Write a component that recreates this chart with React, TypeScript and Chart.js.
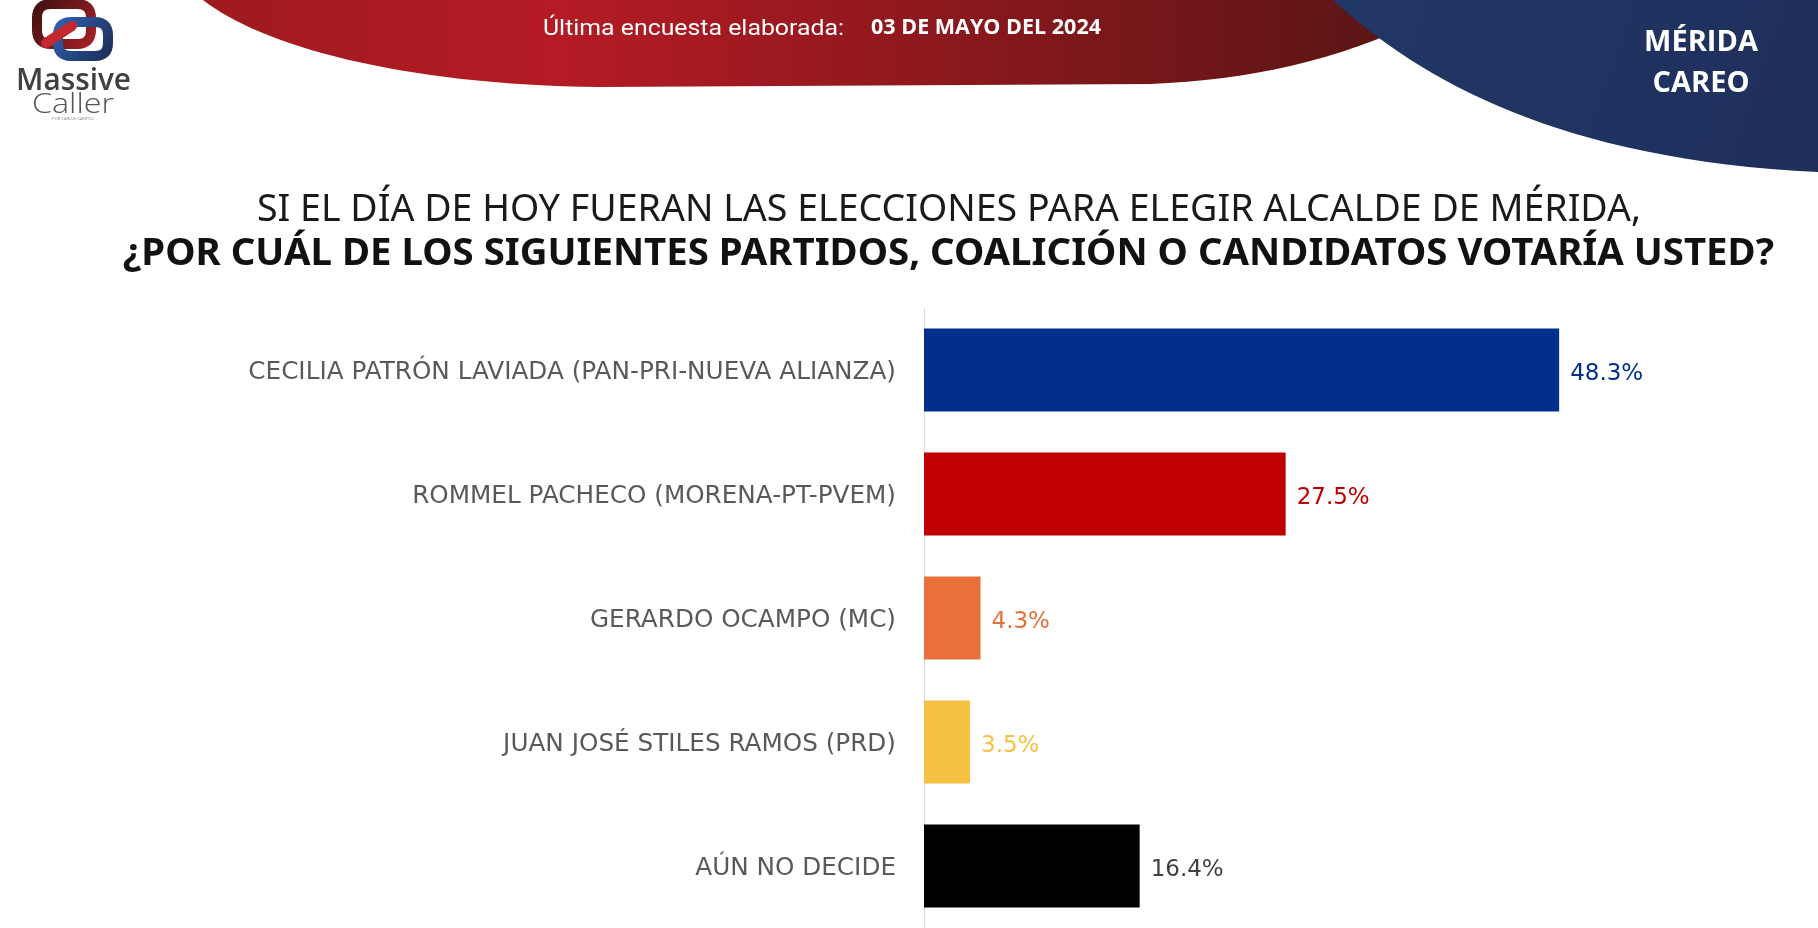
import React, { useEffect, useRef } from "react";
import { Chart, registerables } from "chart.js";
Chart.register(...registerables);

const categories = [
  "CECILIA PATRÓN LAVIADA (PAN-PRI-NUEVA ALIANZA)",
  "ROMMEL PACHECO (MORENA-PT-PVEM)",
  "GERARDO OCAMPO (MC)",
  "JUAN JOSÉ STILES RAMOS (PRD)",
  "AÚN NO DECIDE",
];
const values = [48.3, 27.5, 4.3, 3.5, 16.4];
const barColors = ["#022F8E", "#C00000", "#E8703A", "#F6C143", "#000000"];
const valueLabelColors = ["#022F8E", "#C00000", "#E8703A", "#F6C143", "#404040"];
const titleLine1 = "SI EL DÍA DE HOY FUERAN LAS ELECCIONES PARA ELEGIR ALCALDE DE MÉRIDA,";
const titleLine2 = "¿POR CUÁL DE LOS SIGUIENTES PARTIDOS, COALICIÓN O CANDIDATOS VOTARÍA USTED?";
const surveyLabel = "Última encuesta elaborada:";
const surveyDate = "03 DE MAYO DEL 2024";
const regionLines = ["MÉRIDA", "CAREO"];
const brandLines = ["Massive", "Caller", "POR CARLOS CAMPOS"];

function fitText(ctx: CanvasRenderingContext2D, text: string, left: number, baseline: number, width: number, font: string, color: string) {
  ctx.save();
  ctx.font = font;
  ctx.fillStyle = color;
  ctx.textAlign = "left";
  ctx.textBaseline = "alphabetic";
  const w = ctx.measureText(text).width;
  ctx.translate(left, baseline);
  ctx.scale(width / w, 1);
  ctx.fillText(text, 0, 0);
  ctx.restore();
}

function roundRectPath(ctx: CanvasRenderingContext2D, x: number, y: number, w: number, h: number, r: number) {
  ctx.beginPath();
  ctx.moveTo(x + r, y);
  ctx.lineTo(x + w - r, y);
  ctx.quadraticCurveTo(x + w, y, x + w, y + r);
  ctx.lineTo(x + w, y + h - r);
  ctx.quadraticCurveTo(x + w, y + h, x + w - r, y + h);
  ctx.lineTo(x + r, y + h);
  ctx.quadraticCurveTo(x, y + h, x, y + h - r);
  ctx.lineTo(x, y + r);
  ctx.quadraticCurveTo(x, y, x + r, y);
  ctx.closePath();
}

const decorPlugin = {
  id: "decor",
  beforeDraw(chart: any) {
    const ctx: CanvasRenderingContext2D = chart.ctx;
    const W = chart.width;
    ctx.save();
    ctx.fillStyle = "#ffffff";
    ctx.fillRect(0, 0, W, chart.height);

    // red header wave
    const rg = ctx.createLinearGradient(200, 0, 1400, 0);
    rg.addColorStop(0, "#9E1A1F");
    rg.addColorStop(0.3, "#B51B24");
    rg.addColorStop(1, "#5A1515");
    ctx.fillStyle = rg;
    ctx.beginPath();
    ctx.moveTo(203, 0);
    ctx.bezierCurveTo(260, 45, 400, 85, 600, 87);
    ctx.lineTo(1150, 84);
    ctx.bezierCurveTo(1250, 80, 1340, 60, 1420, 20);
    ctx.lineTo(1420, 0);
    ctx.closePath();
    ctx.fill();

    // blue corner
    const bg = ctx.createLinearGradient(1333, 0, 1818, 170);
    bg.addColorStop(0, "#213766");
    bg.addColorStop(1, "#1F2F5C");
    ctx.fillStyle = bg;
    ctx.beginPath();
    ctx.moveTo(1333, 0);
    ctx.bezierCurveTo(1420, 80, 1560, 160, 1818, 172);
    ctx.lineTo(1818, 0);
    ctx.closePath();
    ctx.fill();

    // header texts
    fitText(ctx, surveyLabel, 543, 35, 301, "22px Roboto", "#ffffff");
    fitText(ctx, surveyDate, 871, 34, 230, "bold 21px 'Open Sans'", "#ffffff");
    ctx.fillStyle = "#ffffff";
    ctx.font = "bold 29px 'Open Sans'";
    ctx.textAlign = "center";
    ctx.fillText(regionLines[0], 1701, 51);
    ctx.fillText(regionLines[1], 1701, 92);

    // logo icon
    ctx.lineWidth = 10;
    ctx.lineCap = "round";
    const lg1 = ctx.createLinearGradient(32, 0, 100, 50);
    lg1.addColorStop(0, "#3A1010");
    lg1.addColorStop(1, "#B02228");
    ctx.strokeStyle = lg1;
    roundRectPath(ctx, 37, 4, 54, 40, 14);
    ctx.stroke();
    const lg2 = ctx.createLinearGradient(55, 20, 112, 62);
    lg2.addColorStop(0, "#2F62B3");
    lg2.addColorStop(1, "#1B2A50");
    ctx.strokeStyle = lg2;
    roundRectPath(ctx, 58, 22, 50, 34, 13);
    ctx.stroke();
    ctx.strokeStyle = "#C4272E";
    ctx.beginPath();
    ctx.moveTo(46, 43);
    ctx.lineTo(72, 26);
    ctx.stroke();

    fitText(ctx, brandLines[0], 16, 90, 115, "600 31px 'Open Sans'", "#404040");
    fitText(ctx, brandLines[1], 32, 113, 82, "300 27px 'Open Sans'", "#555555");
    ctx.fillStyle = "#888888";
    ctx.font = "4px 'Open Sans'";
    ctx.textAlign = "center";
    ctx.fillText(brandLines[2], 73, 120);

    // title
    fitText(ctx, titleLine1, 257, 221, 1384, "38px 'Noto Sans'", "#1a1a1a");
    fitText(ctx, titleLine2, 123, 265, 1651, "bold 38px 'Noto Sans'", "#111111");
    ctx.restore();
  },
};

const valueLabelPlugin = {
  id: "valueLabels",
  afterDatasetsDraw(chart: any) {
    const ctx: CanvasRenderingContext2D = chart.ctx;
    const meta = chart.getDatasetMeta(0);
    ctx.save();
    ctx.font = "23px 'DejaVu Sans'";
    ctx.textAlign = "left";
    ctx.textBaseline = "middle";
    meta.data.forEach((bar: any, i: number) => {
      ctx.fillStyle = valueLabelColors[i];
      ctx.fillText(values[i].toFixed(1) + "%", bar.x + 11, bar.y + 4);
    });
    ctx.restore();
  },
};

export default function App() {
  const ref = useRef<HTMLCanvasElement | null>(null);
  useEffect(() => {
    if (!ref.current) return;
    const chart = new Chart(ref.current, {
      type: "bar",
      data: {
        labels: categories,
        datasets: [
          {
            data: values,
            backgroundColor: barColors,
            borderWidth: 0,
            barPercentage: 0.67,
            categoryPercentage: 1,
          },
        ],
      },
      options: {
        indexAxis: "y",
        animation: false,
        responsive: false,
        maintainAspectRatio: false,
        layout: { padding: { top: 308, right: 105, bottom: 0, left: 0 } },
        plugins: { legend: { display: false }, tooltip: { enabled: false } },
        scales: {
          x: { display: false, min: 0, max: 60 },
          y: {
            afterFit: (s: any) => {
              s.width = 924;
              s.paddingTop = 0;
              s.paddingBottom = 0;
            },
            grid: { display: false, drawTicks: false },
            border: { display: true, color: "#d9d9d9", width: 1 },
            ticks: {
              padding: 28,
              labelOffset: 3,
              color: "#595959",
              font: { family: "'DejaVu Sans'", size: 24.7 },
            },
          },
        },
      },
      plugins: [decorPlugin, valueLabelPlugin],
    });
    return () => chart.destroy();
  }, []);
  return (
    <div style={{ position: "fixed", left: 0, top: 0, width: 1818, height: 928, background: "#fff" }}>
      <canvas ref={ref} width={1818} height={928} style={{ display: "block", width: 1818, height: 928 }} />
    </div>
  );
}
